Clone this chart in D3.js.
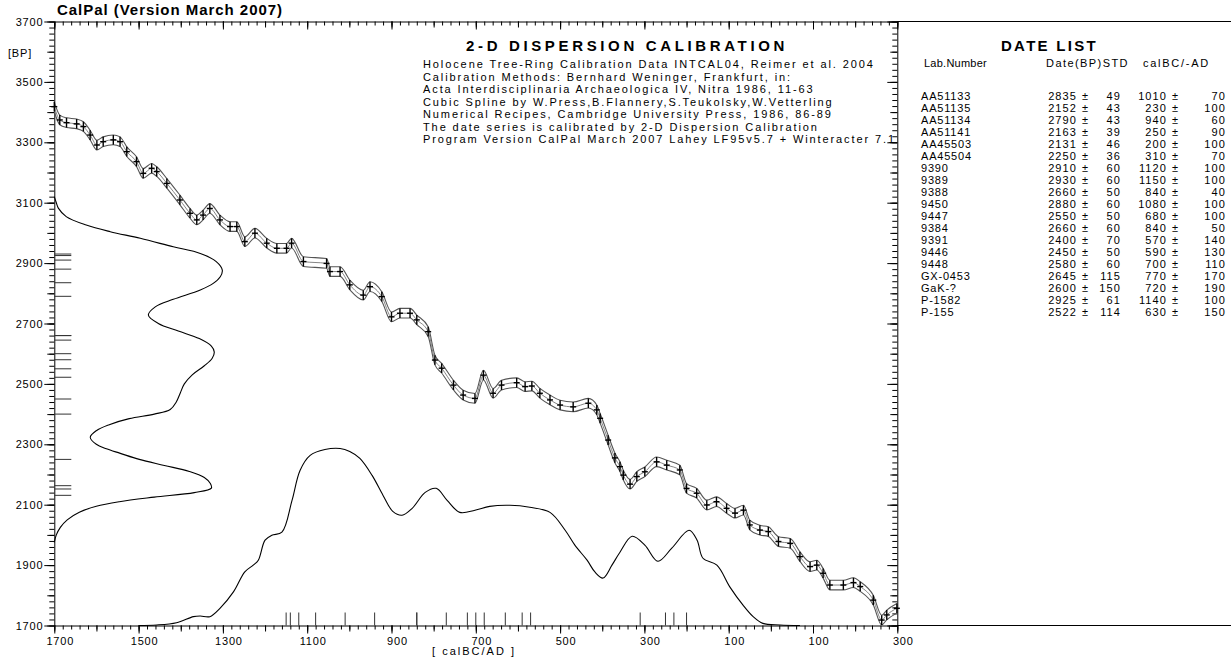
<!DOCTYPE html>
<html>
<head>
<meta charset="utf-8">
<script src="https://cdn.jsdelivr.net/npm/d3@7"></script>
<style>
  body { margin: 0; background: #fff; }
  svg { display: block; font-family: "Liberation Sans", Arial, sans-serif; }
</style>
</head>
<body>
<svg id="chart" width="1231" height="659"></svg>
<script>
// Calibration curve (INTCAL04): calendar year (BC < 0) and 14C age BP
const calYears = [-1700, -1687, -1671, -1647, -1631, -1615, -1599, -1584, -1560, -1544, -1528, -1505, -1489, -1469, -1457, -1433,
  -1402, -1378, -1362, -1347, -1331, -1307, -1283, -1267, -1248, -1224, -1196, -1172, -1149, -1137, -1109, -1054, -1046,
  -1022, -999, -967, -951, -923, -900, -880, -856, -840, -813, -797, -781, -753, -730, -702, -682, -659, -639, -603,
  -583, -567, -548, -524, -500, -469, -433, -413, -405, -386, -370, -358, -350, -334, -318, -299, -271, -247, -216,
  -200, -176, -152, -129, -105, -85, -65, -50, -26, -6, 18, 46, 69, 93, 109, 124, 140, 172, 196, 212, 243, 263, 275, 299];
const calBP = [3418, 3374, 3365, 3361, 3352, 3324, 3291, 3302, 3308, 3302, 3269, 3236, 3197, 3214, 3203, 3164,
  3109, 3065, 3043, 3059, 3081, 3043, 3021, 3021, 2971, 2999, 2966, 2949, 2949, 2966, 2905, 2899, 2872,
  2872, 2828, 2794, 2822, 2789, 2722, 2734, 2734, 2712, 2673, 2579, 2552, 2496, 2463, 2452, 2529, 2469, 2496, 2504,
  2491, 2493, 2469, 2447, 2430, 2424, 2436, 2414, 2386, 2314, 2255, 2226, 2198, 2168, 2193, 2209, 2242, 2231, 2215,
  2154, 2138, 2099, 2110, 2088, 2072, 2082, 2033, 2016, 2011, 1978, 1972, 1928, 1895, 1900, 1873, 1834, 1834, 1842, 1829, 1784, 1718, 1735, 1757];
const calSigma = 16;

// Summed 14C-age distribution (left), relative height in percent
const bpDensAge = [3120, 3100, 3082, 3054, 3026, 3004, 2982, 2954, 2932, 2905, 2877, 2855, 2833, 2811, 2780, 2755, 2728,
  2700, 2675, 2650, 2625, 2606, 2585, 2560, 2530, 2500, 2470, 2440, 2415, 2400, 2385, 2365, 2345, 2323, 2300, 2285,
  2270, 2250, 2230, 2210, 2190, 2170, 2155, 2140, 2125, 2110, 2095, 2075, 2050, 2025, 2000, 1975];
const bpDensVal = [0, 1.2, 2.4, 7.1, 19, 33.3, 51.2, 70.8, 86.9, 96.4, 100, 98.8, 94.6, 86.9, 70.8, 60.1, 56,
  61.9, 73.8, 86.3, 93.5, 95.2, 94, 89.3, 82.1, 77.4, 75, 72.6, 69, 59.5, 44.6, 32.7, 25, 21.4, 25, 31,
  39.3, 50.6, 65.5, 80.4, 89.3, 92.9, 93.5, 83.3, 59.5, 38.7, 25, 14.9, 7.7, 3.6, 1.2, 0];

// Summed calendar distribution (bottom), relative height in percent
const calDensYear = [-1500, -1457, -1410, -1370, -1354, -1331, -1307, -1275, -1248, -1228, -1216, -1200, -1184, -1160,
  -1136, -1117, -1093, -1058, -1022, -999, -975, -946, -920, -897, -875, -851, -820, -794, -768, -738, -702, -667,
  -619, -572, -524, -488, -465, -436, -417, -398, -377, -358, -329, -299, -268, -235, -194, -175, -161, -128, -97,
  -66, -42, -19, 22, 69];
const calDensVal = [0, 0.3, 1.6, 5, 5.4, 5, 9.7, 19, 30.3, 34.1, 36.9, 48.2, 51, 52.7,
  70.7, 87.6, 96.1, 99.4, 100, 98.3, 94.4, 84.8, 73.5, 64.5, 62.3, 66.2, 75.2, 77.5, 70.7, 63.9, 65.1, 67.3,
  67.9, 66.8, 63.9, 53.8, 45.4, 36.9, 30.1, 26.8, 34.1, 41.4, 50.4, 45.4, 36.3, 43.7, 53.8, 48.2, 38, 34.1, 21.7,
  11.5, 5, 1.2, 0.3, 0];

// Date list
const labNumbers = ["AA51133", "AA51135", "AA51134", "AA51141", "AA45503", "AA45504", "9390", "9389", "9388", "9450",
  "9447", "9384", "9391", "9446", "9448", "GX-0453", "GaK-?", "P-1582", "P-155"];
const datesBP = [2835, 2152, 2790, 2163, 2131, 2250, 2910, 2930, 2660, 2880, 2550, 2660, 2400, 2450, 2580, 2645, 2600, 2925, 2522];
const datesSTD = [49, 43, 43, 39, 46, 36, 60, 60, 50, 60, 50, 60, 70, 50, 60, 115, 150, 61, 114];
const calBC = [1010, 230, 940, 250, 200, 310, 1120, 1150, 840, 1080, 680, 840, 570, 590, 700, 770, 720, 1140, 630];
const calSTD = [70, 100, 60, 90, 100, 70, 100, 100, 40, 100, 100, 50, 140, 130, 110, 170, 190, 100, 150];

// Axis ticks
const xTickValues = [-1700, -1500, -1300, -1100, -900, -700, -500, -300, -100, 100, 300];
const xTickLabels = ["1700", "1500", "1300", "1100", "900", "700", "500", "300", "100", "100", "300"];
const yTickValues = [3700, 3500, 3300, 3100, 2900, 2700, 2500, 2300, 2100, 1900, 1700];

const infoLines = [
  "Holocene Tree-Ring Calibration Data INTCAL04, Reimer et al. 2004",
  "Calibration Methods:  Bernhard Weninger, Frankfurt, in:",
  "Acta Interdisciplinaria Archaeologica IV, Nitra 1986, 11-63",
  "Cubic Spline by W.Press,B.Flannery,S.Teukolsky,W.Vetterling",
  "Numerical Recipes, Cambridge University Press, 1986, 86-89",
  "The date series is calibrated by 2-D Dispersion Calibration",
  "Program Version CalPal March 2007 Lahey LF95v5.7 + Winteracter 7.1"
];

const svg = d3.select("#chart");
const W = 1231;

const x = d3.scaleLinear().domain([-1700, 300]).range([54.3, 897.3]);
const y = d3.scaleLinear().domain([1700, 3700]).range([625.5, 21.5]);
const xDens = d3.scaleLinear().domain([0, 100]).range([x(-1700), x(-1700) + 168]);
const yDens = d3.scaleLinear().domain([0, 100]).range([y(1700), y(1700) - 177]);

// stretch letter spacing so a text gets the wide look of the original plotter font
function stretch(sel, width) {
  const node = sel.node();
  sel.attr("letter-spacing", 0);
  sel.attr("letter-spacing", (width - node.getComputedTextLength()) / node.textContent.length);
  return sel;
}

// ---- axes ----
function axisSet(make, scale, values, sizes, transform) {
  // sizes: [minor(20), medium(100), major(200)]
  const steps = [20, 100, 200];
  steps.forEach((step, k) => {
    const vals = values.filter(v => (v - values[0]) % step === 0);
    const g = svg.append("g")
      .attr("transform", transform)
      .call(make(scale).tickValues(vals).tickSize(sizes[k]).tickSizeOuter(0).tickFormat(""));
    g.selectAll("line").attr("stroke", "#000");
    if (k > 0) g.select(".domain").remove();
    else g.select(".domain").attr("stroke", "#000");
  });
}

const xAll = d3.range(-1700, 301, 20);
const yAll = d3.range(1700, 3701, 20);
axisSet(d3.axisBottom, x, xAll, [4, 6, 8], `translate(0,${y(1700)})`);
axisSet(d3.axisTop, x, xAll, [-4, -6, -8], `translate(0,${y(3700)})`);
axisSet(d3.axisLeft, y, yAll, [5, 7, 10], `translate(${x(-1700)},0)`);
axisSet(d3.axisRight, y, yAll, [-5, -7, -10], `translate(${x(300)},0)`);

// top and bottom frame lines run on under the date list
svg.append("line").attr("x1", x(300)).attr("x2", W).attr("y1", y(3700)).attr("y2", y(3700)).attr("stroke", "#000");
svg.append("line").attr("x1", x(300)).attr("x2", W).attr("y1", y(1700)).attr("y2", y(1700)).attr("stroke", "#000");

const labelFont = g => g.attr("font-size", 11).attr("letter-spacing", 0.8).attr("fill", "#000");

svg.append("g").call(labelFont)
  .selectAll("text").data(xTickValues).join("text")
  .attr("x", d => x(d) + 6)
  .attr("y", y(1700) + 19)
  .attr("text-anchor", "middle")
  .text((d, i) => xTickLabels[i]);

svg.append("g").call(labelFont)
  .selectAll("text").data(yTickValues).join("text")
  .attr("x", x(-1700) - 11)
  .attr("y", d => y(d) + 4)
  .attr("text-anchor", "end")
  .text(d => d);

svg.append("text").call(labelFont).attr("x", 8).attr("y", y(3600) + 5).text("[BP]");
stretch(svg.append("text").call(labelFont).attr("x", 432).attr("y", 655).text("[ calBC/AD ]"), 84);

stretch(svg.append("text")
  .attr("x", 57).attr("y", 15)
  .attr("font-size", 15).attr("font-weight", "bold")
  .text("CalPal (Version March 2007)"), 226);

// ---- calibration curve ----
const cal = calYears.map((yr, i) => ({ yr, bp: calBP[i] }));
const bandLine = off => d3.line().x(d => x(d.yr)).y(d => y(d.bp + off)).curve(d3.curveMonotoneX);
const curveG = svg.append("g");
[-calSigma, calSigma].forEach(off => {
  curveG.append("path").datum(cal).attr("d", bandLine(off))
    .attr("fill", "none").attr("stroke", "#555").attr("stroke-width", 1.1);
});
curveG.append("path").datum(cal).attr("d", bandLine(0))
  .attr("fill", "none").attr("stroke", "#777").attr("stroke-width", 0.9);
curveG.selectAll(".bar").data(cal).join("line").attr("class", "bar")
  .attr("x1", d => x(d.yr)).attr("x2", d => x(d.yr))
  .attr("y1", d => y(d.bp - calSigma)).attr("y2", d => y(d.bp + calSigma))
  .attr("stroke", "#000").attr("stroke-width", 1.4);
curveG.selectAll(".arm").data(cal).join("line").attr("class", "arm")
  .attr("x1", d => x(d.yr) - 3).attr("x2", d => x(d.yr) + 3)
  .attr("y1", d => y(d.bp)).attr("y2", d => y(d.bp))
  .attr("stroke", "#000").attr("stroke-width", 1.4);

// ---- distributions ----
const bpDens = bpDensAge.map((bp, i) => ({ bp, v: bpDensVal[i] }));
svg.append("path").datum(bpDens)
  .attr("d", d3.line().x(d => xDens(d.v)).y(d => y(d.bp)).curve(d3.curveCatmullRom.alpha(0.5)))
  .attr("fill", "none").attr("stroke", "#000").attr("stroke-width", 1.1);

const calDens = calDensYear.map((yr, i) => ({ yr, v: calDensVal[i] }));
svg.append("path").datum(calDens)
  .attr("d", d3.line().x(d => x(d.yr)).y(d => yDens(d.v)).curve(d3.curveCatmullRom.alpha(0.5)))
  .attr("fill", "none").attr("stroke", "#000").attr("stroke-width", 1.1);

// date markers on both axes
svg.append("g").selectAll("line").data(datesBP).join("line")
  .attr("x1", x(-1700)).attr("x2", x(-1700) + 17)
  .attr("y1", d => y(d)).attr("y2", d => y(d))
  .attr("stroke", "#333");
svg.append("g").selectAll("line").data(calBC).join("line")
  .attr("x1", d => x(-d)).attr("x2", d => x(-d))
  .attr("y1", y(1700)).attr("y2", y(1700) - 13)
  .attr("stroke", "#333");

// ---- header text ----
stretch(svg.append("text")
  .attr("x", 466).attr("y", 51)
  .attr("font-size", 15).attr("font-weight", "bold")
  .text("2-D DISPERSION CALIBRATION"), 322);
const info = svg.append("g").attr("font-size", 11);
info.selectAll("text").data(infoLines).join("text")
  .attr("x", 423).attr("y", (d, i) => 68 + i * 12.5)
  .text(d => d);
// the last line reaches the axis; give every line the same spacing
const last = info.selectAll("text").nodes()[infoLines.length - 1];
info.attr("letter-spacing", (473 - last.getComputedTextLength()) / last.textContent.length);

// ---- date list ----
const list = svg.append("g").attr("font-size", 11).attr("letter-spacing", 1.1);
stretch(list.append("text").attr("x", 1001).attr("y", 51)
  .attr("font-size", 15).attr("font-weight", "bold").text("DATE LIST"), 97);
stretch(list.append("text").attr("x", 924).attr("y", 67).text("Lab.Number"), 63);
stretch(list.append("text").attr("x", 1046).attr("y", 67).text("Date(BP)STD"), 83);
stretch(list.append("text").attr("x", 1143).attr("y", 67).text("calBC/-AD"), 67);

const rows = list.selectAll(".row").data(labNumbers).join("g").attr("class", "row")
  .attr("transform", (d, i) => `translate(0,${99.7 + i * 12})`);
rows.append("text").attr("x", 921).attr("letter-spacing", 0.8).text(d => d);
rows.append("text").attr("x", 1077).attr("text-anchor", "end").text((d, i) => datesBP[i]);
rows.append("text").attr("x", 1082).text("±");
rows.append("text").attr("x", 1121).attr("text-anchor", "end").text((d, i) => datesSTD[i]);
rows.append("text").attr("x", 1167).attr("text-anchor", "end").text((d, i) => calBC[i]);
rows.append("text").attr("x", 1172).text("±");
rows.append("text").attr("x", 1226).attr("text-anchor", "end").text((d, i) => calSTD[i]);
</script>
</body>
</html>
